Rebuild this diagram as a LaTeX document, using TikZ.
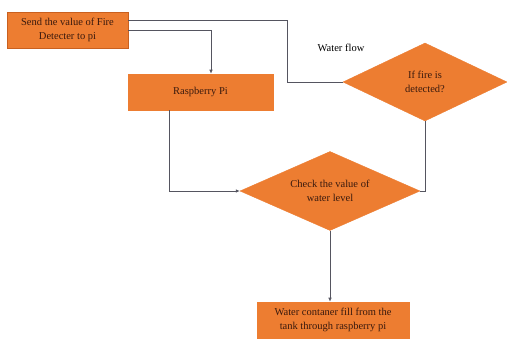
\documentclass[tikz,border=0pt]{standalone}
\usepackage{fontspec}
\setmainfont{Liberation Serif}
\usetikzlibrary{shapes.geometric,arrows.meta,calc}
\definecolor{boxfill}{HTML}{ED7D31}
\definecolor{boxline}{HTML}{C9601F}
\definecolor{txt}{HTML}{3A1A0E}
\definecolor{wire}{HTML}{555560}
\tikzset{
  procbox/.style={rectangle, fill=boxfill, draw=boxline, line width=0.6pt, inner sep=0pt, text=txt, align=center, font=\fontsize{10.5}{13.5}\selectfont},
  decbox/.style={diamond, fill=boxfill, draw=boxfill, line width=0.4pt, inner sep=0pt, text=txt, align=center, font=\fontsize{10.5}{14}\selectfont},
  wireline/.style={draw=wire, line width=0.7pt},
  arrowline/.style={wireline, -{Latex[length=4pt,width=3.5pt]}},
  lbl/.style={text=black, font=\fontsize{10.5}{13}\selectfont}
}
\begin{document}
\begin{tikzpicture}[x=1pt,y=-1pt]
\useasboundingbox[fill=white] (0,0) rectangle (507,340);
\node[procbox, minimum width=121pt, minimum height=36pt] (b1) at (67.5,30) {Send the value of Fire\\Detecter to pi};
\node[procbox, minimum width=145pt, minimum height=36pt, draw=boxfill] (rpi) at (200.5,92) {Raspberry Pi};
\node[decbox, minimum width=164pt, minimum height=78pt, aspect=2.1] (fire) at (425,82) {If fire is\\detected?};
\node[decbox, minimum width=180pt, minimum height=79pt, aspect=2.28] (check) at (330,191) {Check the value of\\water level};
\node[procbox, minimum width=152pt, minimum height=36pt, draw=boxfill] (tank) at (333,320) {Water contaner fill from the\\tank through raspberry pi};
\node[lbl] (wf) at (341,48) {Water flow};
\draw[wireline] ([yshift=10pt]b1.east) -| ($(fire.west)+(-55,0)$) -- (fire.west);
\draw[arrowline] (b1.east) -| ([xshift=10.5pt]rpi.north);
\draw[arrowline] ([xshift=-31.5pt]rpi.south) |- (check.west);
\draw[wireline] (fire.south) |- (check.east);
\draw[arrowline] (check.south) -- (check.south |- tank.north);
\end{tikzpicture}
\end{document}
